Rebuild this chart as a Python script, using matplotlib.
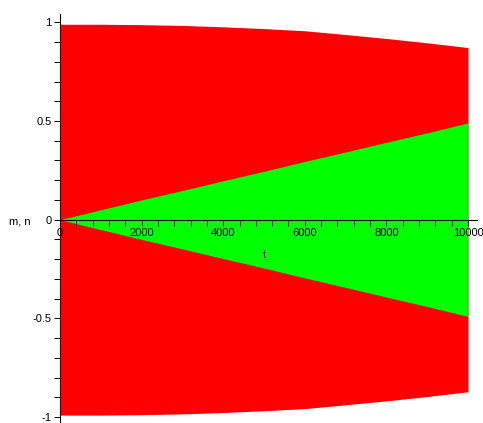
import matplotlib
matplotlib.use("Agg")
import matplotlib.pyplot as plt
from matplotlib.ticker import MultipleLocator

# envelope values (oscillations are dense enough to look filled)
t_vals = [0, 1000, 2000, 3000, 4000, 5000, 6000, 7000, 8000, 9000, 10000]
m_amp = [0.99, 0.99, 0.988, 0.984, 0.977, 0.968, 0.957, 0.938, 0.918, 0.896, 0.872]
n_amp = [0.0, 0.05, 0.10, 0.148, 0.197, 0.245, 0.295, 0.343, 0.392, 0.44, 0.49]

x_ticks = [0, 2000, 4000, 6000, 8000, 10000]
y_ticks = [-1, -0.5, 0, 0.5, 1]
y_tick_labels = ["-1", "-0.5", "0", "0.5", "1"]

plt.rcParams["font.family"] = ["Liberation Sans", "DejaVu Sans"]
plt.rcParams["font.size"] = 8

fig = plt.figure(figsize=(4.83, 4.23), dpi=100)
ax = fig.add_axes([0.1242, 0.0024, 0.8634, 0.9645])

ax.fill_between(t_vals, [-a for a in m_amp], m_amp, color="#ff0000", lw=0)
ax.fill_between(t_vals, [-a for a in n_amp], n_amp, color="#00ff00", lw=0)

ax.set_xlim(0, 10220)
ax.set_ylim(-1.025, 1.042)

for side in ["top", "right"]:
    ax.spines[side].set_visible(False)
ax.spines["bottom"].set_position(("data", 0))
ax.spines["left"].set_linewidth(0.8)
ax.spines["bottom"].set_linewidth(0.8)

ax.set_xticks(x_ticks)
ax.set_xticklabels([str(v) for v in x_ticks])
ax.xaxis.set_minor_locator(MultipleLocator(400))
ax.set_yticks(y_ticks)
ax.set_yticklabels(y_tick_labels)
ax.yaxis.set_minor_locator(MultipleLocator(0.1))

ax.tick_params(axis="x", which="both", direction="out", length=4, width=0.7, pad=2)
ax.tick_params(axis="y", which="both", direction="out", length=4, width=0.7, pad=2)

ax.text(0.49, 0.41, "t", transform=ax.transAxes, ha="center", va="center", fontsize=8)
fig.text(0.040, 0.477, "m, n", ha="center", va="center", fontsize=8)

fig.savefig("out.png", dpi=100)
